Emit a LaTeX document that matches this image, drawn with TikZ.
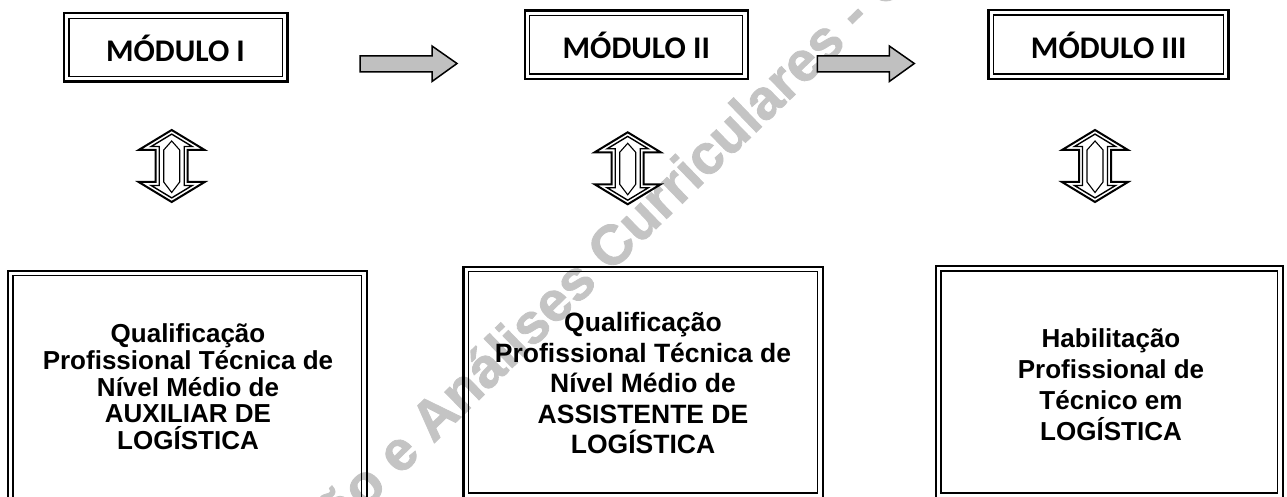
\documentclass[tikz,border=0pt]{standalone}
\usepackage{fontspec}
\setmainfont{Liberation Sans}
\newfontfamily\calibrifont{Carlito}
\newfontfamily\wmfont{Liberation Sans}[BoldFeatures={FakeBold=1.5}]
\definecolor{arrowgray}{RGB}{192,192,192}
\definecolor{wmgray}{RGB}{196,196,196}
\begin{document}
\begin{tikzpicture}[x=1pt,y=-1pt,
  dbox/.style={draw, line width=2.4pt, inner sep=0pt,
    path picture={\draw[line width=1.4pt]
      ([shift={(5pt,-5pt)}]path picture bounding box.north west) rectangle
      ([shift={(-5pt,5pt)}]path picture bounding box.south east);}},
  modtext/.style={font=\calibrifont\bfseries\fontsize{31.5}{32}\selectfont, inner sep=0pt, anchor=base},
  btext/.style={align=center, inner sep=0pt},
  grayarrow/.style={fill=arrowgray, draw=black, line width=1.5pt, line join=miter},
  udouter/.style={draw=black, line width=2pt, line join=miter},
  udinner/.style={draw=black, line width=1.4pt, line join=miter},
  udlens/.style={draw=black, line width=1.1pt, line join=miter},
  watermark/.style={text=wmgray, font=\wmfont\bfseries\fontsize{56}{56}\selectfont, inner sep=0pt}
]
\useasboundingbox (0,0) rectangle (1287,497);
\clip (0,0) rectangle (1287,497);

% watermark (behind everything)
\node[watermark, rotate=44, anchor=base] (wm) at (627,257) {ção e Análises Curriculares - Ce};

% module boxes
\node[dbox, minimum width=223.3pt, minimum height=68.4pt] (m1) at (175.65,47.5) {};
\node[dbox, minimum width=223pt, minimum height=68.3pt] (m2) at (636.2,44.85) {};
\node[dbox, minimum width=240pt, minimum height=69pt] (m3) at (1108.3,44.5) {};
\node[modtext] (m1t) at (175.5,61.7) {MÓDULO I};
\node[modtext] (m2t) at (636.3,58.3) {MÓDULO II};
\node[modtext] (m3t) at (1108.8,58.3) {MÓDULO III};

% gray block arrows between modules
\coordinate (a1) at (360,64);
\coordinate (a2) at (817.3,64);
\foreach \c in {a1,a2}{
  \draw[grayarrow] ([shift={(0,-8)}]\c) -- ++(72,0) -- ++(0,-10) -- ++(25,17.5) -- ([shift={(72,17.5)}]\c) -- ([shift={(72,7.8)}]\c) -- ([shift={(0,7.8)}]\c) -- cycle;
}

% up-down double arrows
\foreach \cx/\ty [count=\i] in {171.7/130, 627.7/132.3, 1095/130}{
  \begin{scope}[shift={(\cx,\ty)}]
    \draw[udouter] (0,0) -- (33,20) -- (16,20) -- (16,52) -- (33,52) -- (0,72) -- (-33,52) -- (-16,52) -- (-16,20) -- (-33,20) -- cycle;
    \draw[udinner] (0,4.1) -- (20.5,16.5) -- (12.5,16.5) -- (12.5,55.5) -- (20.5,55.5) -- (0,67.9) -- (-20.5,55.5) -- (-12.5,55.5) -- (-12.5,16.5) -- (-20.5,16.5) -- cycle;
    \draw[udlens] (0,11) -- (8,20) -- (8,52) -- (0,62.5) -- (-8,52) -- (-8,20) -- cycle;
  \end{scope}
}

% bottom boxes
\node[dbox, minimum width=358.7pt, minimum height=289.3pt] (b1) at (187.35,415.35) {};
\node[dbox, minimum width=359.4pt, minimum height=231.3pt] (b2) at (643,382.35) {};
\node[dbox, minimum width=346.7pt, minimum height=232pt] (b3) at (1109.35,382) {};

\node[btext, font=\bfseries\fontsize{26}{26.7}\selectfont] (t1) at (188,387) {Qualificação\\Profissional Técnica de\\Nível Médio de\\AUXILIAR DE\\LOGÍSTICA};
\node[btext, font=\bfseries\fontsize{26.5}{30.5}\selectfont] (t2) at (643,383.5) {Qualificação\\Profissional Técnica de\\Nível Médio de\\ASSISTENTE DE\\LOGÍSTICA};
\node[btext, font=\bfseries\fontsize{26}{31}\selectfont] (t3) at (1111,385) {Habilitação\\Profissional de\\Técnico em\\LOGÍSTICA};
\end{tikzpicture}
\end{document}
